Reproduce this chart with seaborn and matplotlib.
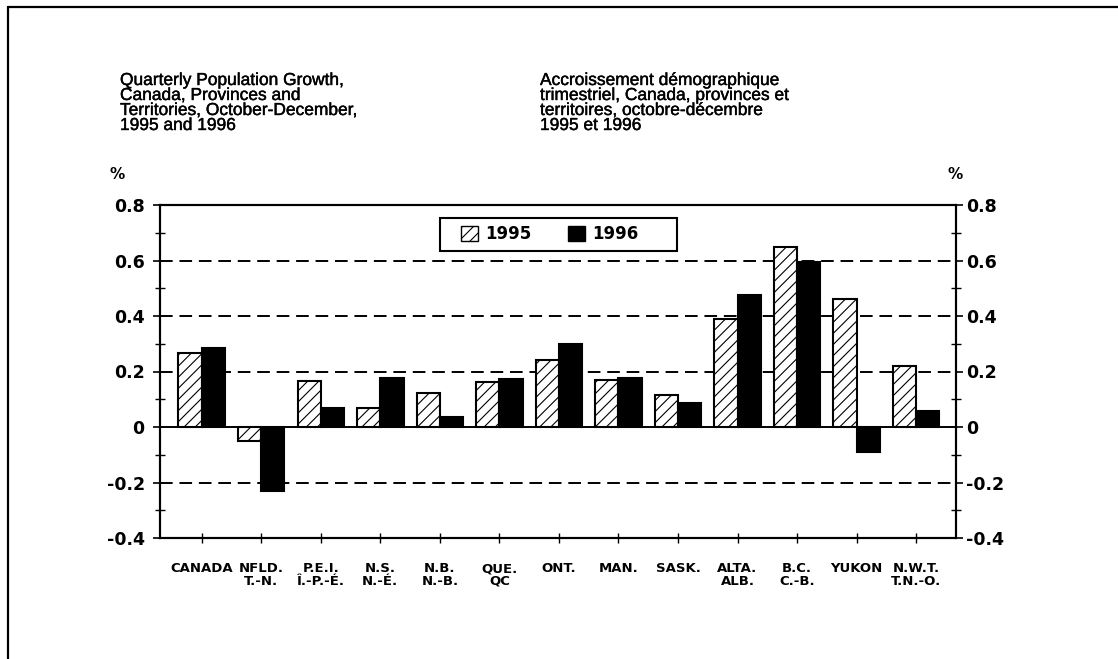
import numpy as np
import pandas as pd
import seaborn as sns
import matplotlib.pyplot as plt
import matplotlib.patheffects as pe
from matplotlib.lines import Line2D
from matplotlib.patches import Patch, Rectangle

# data (quarterly growth, %)
regions = ["CANADA", "NFLD.\nT.-N.", "P.E.I.\nÎ.-P.-É.", "N.S.\nN.-É.", "N.B.\nN.-B.",
           "QUE.\nQC", "ONT.", "MAN.", "SASK.", "ALTA.\nALB.", "B.C.\nC.-B.",
           "YUKON", "N.W.T.\nT.N.-O."]
g1995 = [0.267, -0.052, 0.166, 0.070, 0.121, 0.161, 0.243, 0.169, 0.117, 0.388, 0.648, 0.463, 0.220]
g1996 = [0.286, -0.230, 0.070, 0.178, 0.036, 0.173, 0.298, 0.175, 0.085, 0.474, 0.594, -0.091, 0.056]
years = ["1995", "1996"]
yticks = [-0.4, -0.2, 0, 0.2, 0.4, 0.6, 0.8]
ytick_labels = ["-0.4", "-0.2", "0", "0.2", "0.4", "0.6", "0.8"]

title_en = "Quarterly Population Growth,\nCanada, Provinces and\nTerritories, October-December,\n1995 and 1996"
title_fr = "Accroissement démographique\ntrimestriel, Canada, provinces et\nterritoires, octobre-décembre\n1995 et 1996"

df = pd.DataFrame({
    "region": regions * 2,
    "growth": g1995 + g1996,
    "year": [years[0]] * len(regions) + [years[1]] * len(regions),
})

sns.set_style("white")
plt.rcParams["hatch.linewidth"] = 0.8
plt.rcParams["font.family"] = ["DejaVu Sans"]
for k in ["text.color", "axes.labelcolor", "xtick.color", "ytick.color"]:
    plt.rcParams[k] = "black"

W, H = 1118, 659
fig = plt.figure(figsize=(W / 100, H / 100), dpi=100)
ax = fig.add_axes([160 / W, 1 - 538 / H, (956 - 160) / W, (538 - 205) / H])

sns.barplot(data=df, x="region", y="growth", hue="year", order=regions, hue_order=years,
            palette={"1995": "white", "1996": "black"}, edgecolor="black", linewidth=1.5,
            width=0.78, saturation=1, legend=False, ax=ax, zorder=3)
for bar in ax.containers[0]:
    bar.set_hatch("///")

ax.set_xlim(-0.7, 12.67)
ax.set_ylim(-0.4, 0.8)
ax.set_xlabel("")
ax.set_ylabel("")

# dashed reference lines, solid zero line
for y in [0.6, 0.4, 0.2, -0.2]:
    ax.axhline(y, color="black", lw=1.4, dashes=(6.5, 3.5), zorder=1)
ax.axhline(0, color="black", lw=1.4, zorder=4)

for s in ax.spines.values():
    s.set_visible(True)
    s.set_color("black")
    s.set_linewidth(1.5)

ax.set_yticks(yticks)
ax.set_yticklabels(ytick_labels, fontsize=12.5, fontweight="bold")
ax.set_yticks(np.arange(-0.3, 0.8, 0.2), minor=True)
ax.tick_params(axis="y", which="major", direction="out", length=5, width=1.2, pad=6)
ax.tick_params(axis="y", which="minor", direction="inout", length=7, width=1.0, left=True)
ax.set_xticks(range(len(regions)))
ax.set_xticklabels(regions, fontsize=9.5, fontweight="bold", linespacing=0.95)
ax.tick_params(axis="x", which="major", direction="inout", length=7, width=1.0, pad=14, bottom=True)

ax2 = ax.twinx()
ax2.set_ylim(-0.4, 0.8)
ax2.set_yticks(yticks)
ax2.set_yticklabels(ytick_labels, fontsize=12.5, fontweight="bold")
ax2.set_yticks(np.arange(-0.3, 0.8, 0.2), minor=True)
ax2.tick_params(axis="y", which="major", direction="out", length=5, width=1.2, pad=2)
ax2.tick_params(axis="y", which="minor", direction="inout", length=7, width=1.0, right=True)
for s in ax2.spines.values():
    s.set_linewidth(1.5)
    s.set_color("black")

# legend: frameless entries inside a drawn box
handles = [Patch(facecolor="white", edgecolor="black", hatch="///", label=years[0]),
           Patch(facecolor="black", edgecolor="black", label=years[1])]
leg = ax.legend(handles=handles, loc="center left", bbox_to_anchor=(461 / W, 1 - 234.5 / H),
                bbox_transform=fig.transFigure, ncol=2, frameon=False,
                prop={"weight": "bold", "size": 12}, handlelength=1.0, handleheight=1.0,
                columnspacing=2.2, borderpad=0.0, handletextpad=0.45, borderaxespad=0)
leg.set_zorder(10)
fig.add_artist(Rectangle((440 / W, 1 - 251 / H), (677 - 440) / W, 33 / H,
                         transform=fig.transFigure, facecolor="none", edgecolor="black",
                         lw=1.5, zorder=9))

# titles and unit labels
stroke = [pe.withStroke(linewidth=0.3, foreground="black")]
fig.text(120 / W, 1 - 73 / H, title_en, fontsize=12.5, va="top", ha="left",
         family=["Liberation Sans"], linespacing=1.0, path_effects=stroke)
fig.text(540 / W, 1 - 73 / H, title_fr, fontsize=12.5, va="top", ha="left",
         family=["Liberation Sans"], linespacing=1.0, path_effects=stroke)
fig.text(110 / W, 1 - 175 / H, "%", fontsize=11, fontweight="bold", va="center", ha="left")
fig.text(947 / W, 1 - 175 / H, "%", fontsize=11, fontweight="bold", va="center", ha="left")

# outer frame (top and left edges)
fig.add_artist(Line2D([8 / W, 1], [1 - 7 / H, 1 - 7 / H], color="black", lw=1.6))
fig.add_artist(Line2D([8 / W, 8 / W], [0, 1 - 7 / H], color="black", lw=1.6))

fig.savefig("out.png", dpi=100, facecolor="white")
